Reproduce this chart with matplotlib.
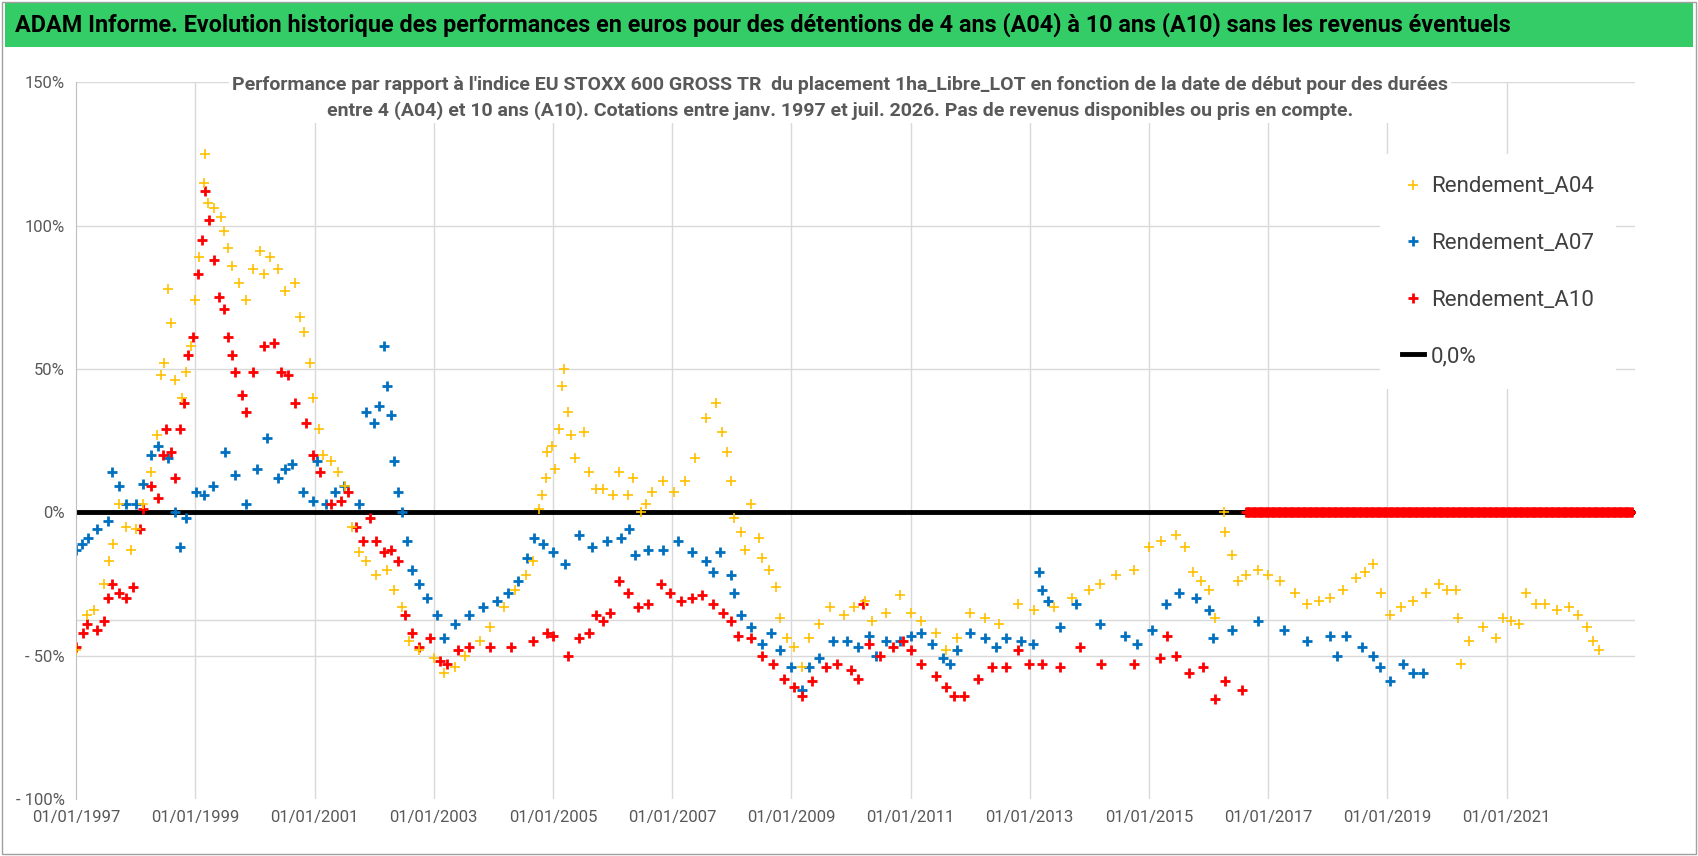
import numpy as np
from matplotlib import pyplot as plt
from matplotlib.patches import Rectangle


# Start dates (decimal years) and performance values (%)
a04_t = [1997.0, 1997.18, 1997.3, 1997.47, 1997.55, 1997.62, 1997.72, 1997.83, 1997.92, 1998.0,
         1998.12, 1998.25, 1998.35, 1998.42, 1998.48, 1998.54, 1998.6, 1998.66, 1998.78, 1998.84,
         1998.92, 1999.0, 1999.07, 1999.14, 1999.17, 1999.22, 1999.31, 1999.43, 1999.49, 1999.55,
         1999.61, 1999.73, 1999.85, 1999.97, 2000.09, 2000.15, 2000.26, 2000.38, 2000.5, 2000.68,
         2000.75, 2000.83, 2000.92, 2000.98, 2001.07, 2001.15, 2001.27, 2001.39, 2001.51, 2001.63,
         2001.75, 2001.87, 2002.04, 2002.22, 2002.34, 2002.46, 2002.58, 2002.76, 2003.0, 2003.18,
         2003.36, 2003.53, 2003.77, 2003.94, 2004.18, 2004.36, 2004.54, 2004.66, 2004.76, 2004.82,
         2004.88, 2004.9, 2004.98, 2005.04, 2005.1, 2005.16, 2005.19, 2005.25, 2005.31, 2005.37,
         2005.52, 2005.6, 2005.72, 2005.84, 2006.0, 2006.1, 2006.26, 2006.35, 2006.47, 2006.56,
         2006.67, 2006.85, 2007.03, 2007.21, 2007.39, 2007.56, 2007.74, 2007.83, 2007.92, 2007.98,
         2008.04, 2008.16, 2008.22, 2008.33, 2008.45, 2008.51, 2008.63, 2008.75, 2008.81, 2008.93,
         2009.05, 2009.17, 2009.29, 2009.46, 2009.64, 2009.88, 2010.05, 2010.23, 2010.35, 2010.59,
         2010.83, 2011.0, 2011.18, 2011.42, 2011.6, 2011.78, 2012.0, 2012.25, 2012.48, 2012.8,
         2013.07, 2013.4, 2013.7, 2014.0, 2014.18, 2014.45, 2014.75, 2015.0, 2015.2, 2015.45,
         2015.6, 2015.73, 2015.88, 2016.0, 2016.1, 2016.25, 2016.28, 2016.39, 2016.5, 2016.62,
         2016.83, 2017.0, 2017.2, 2017.45, 2017.65, 2017.85, 2018.03, 2018.25, 2018.48, 2018.62,
         2018.76, 2018.9, 2019.04, 2019.23, 2019.43, 2019.65, 2019.87, 2020.0, 2020.15, 2020.19,
         2020.23, 2020.37, 2020.6, 2020.82, 2020.94, 2021.07, 2021.2, 2021.32, 2021.5, 2021.65,
         2021.85, 2022.05, 2022.2, 2022.35, 2022.45, 2022.55]
a04_v = [-48, -36, -34, -25, -17, -11, 3, -5, -13, -6,
         3, 14, 27, 48, 52, 78, 66, 46, 40, 49,
         58, 74, 89, 115, 125, 108, 106, 103, 98, 92,
         86, 80, 74, 85, 91, 83, 89, 85, 77, 80,
         68, 63, 52, 40, 29, 20, 18, 14, 9, -5,
         -14, -17, -22, -20, -27, -33, -45, -48, -51, -56,
         -54, -50, -45, -40, -33, -27, -22, -17, 1, 6,
         12, 21, 23, 15, 29, 44, 50, 35, 27, 19,
         28, 14, 8, 8, 6, 14, 6, 12, 0, 3,
         7, 11, 7, 11, 19, 33, 38, 28, 21, 11,
         -2, -7, -13, 3, -9, -16, -20, -26, -37, -44,
         -47, -54, -44, -39, -33, -36, -33, -31, -38, -35,
         -29, -35, -38, -42, -48, -44, -35, -37, -39, -32,
         -34, -33, -30, -27, -25, -22, -20, -12, -10, -8,
         -12, -21, -24, -27, -37, 0, -7, -15, -24, -22,
         -20, -22, -24, -28, -32, -31, -30, -27, -23, -21,
         -18, -28, -36, -33, -31, -28, -25, -27, -27, -37,
         -53, -45, -40, -44, -37, -38, -39, -28, -32, -32,
         -34, -33, -36, -40, -45, -48]

a07_t = [1997.0, 1997.1, 1997.2, 1997.35, 1997.53, 1997.6, 1997.72, 1997.83, 1998.0, 1998.12,
         1998.25, 1998.37, 1998.54, 1998.66, 1998.75, 1998.84, 1999.02, 1999.15, 1999.3, 1999.5,
         1999.67, 1999.85, 2000.03, 2000.2, 2000.38, 2000.5, 2000.62, 2000.8, 2000.98, 2001.04,
         2001.2, 2001.35, 2001.5, 2001.75, 2001.87, 2002.0, 2002.09, 2002.16, 2002.22, 2002.28,
         2002.34, 2002.4, 2002.46, 2002.55, 2002.64, 2002.76, 2002.88, 2003.06, 2003.18, 2003.36,
         2003.6, 2003.83, 2004.06, 2004.24, 2004.42, 2004.57, 2004.69, 2004.83, 2005.0, 2005.2,
         2005.43, 2005.66, 2005.9, 2006.14, 2006.28, 2006.38, 2006.6, 2006.85, 2007.09, 2007.33,
         2007.56, 2007.68, 2007.8, 2007.98, 2008.04, 2008.16, 2008.33, 2008.51, 2008.66, 2008.81,
         2008.99, 2009.17, 2009.29, 2009.46, 2009.7, 2009.94, 2010.12, 2010.3, 2010.42, 2010.59,
         2010.83, 2011.0, 2011.18, 2011.36, 2011.54, 2011.66, 2011.78, 2012.0, 2012.25, 2012.43,
         2012.6, 2012.85, 2013.05, 2013.15, 2013.2, 2013.3, 2013.5, 2013.77, 2014.18, 2014.6,
         2014.8, 2015.05, 2015.28, 2015.5, 2015.78, 2016.0, 2016.08, 2016.39, 2016.83, 2017.27,
         2017.65, 2018.03, 2018.15, 2018.3, 2018.58, 2018.76, 2018.88, 2019.04, 2019.26, 2019.43,
         2019.6]
a07_v = [-13, -11, -9, -6, -3, 14, 9, 3, 3, 10,
         20, 23, 19, 0, -12, -2, 7, 6, 9, 21,
         13, 3, 15, 26, 12, 15, 17, 7, 4, 18,
         3, 7, 9, 3, 35, 31, 37, 58, 44, 34,
         18, 7, 0, -10, -20, -25, -30, -36, -44, -39,
         -36, -33, -31, -28, -24, -16, -9, -11, -14, -18,
         -8, -12, -10, -9, -6, -15, -13, -13, -10, -14,
         -17, -21, -14, -22, -28, -36, -40, -46, -42, -48,
         -54, -62, -54, -51, -45, -45, -47, -43, -50, -45,
         -45, -43, -42, -46, -51, -53, -48, -42, -44, -47,
         -44, -45, -46, -21, -27, -31, -40, -32, -39, -43,
         -46, -41, -32, -28, -30, -34, -44, -41, -38, -41,
         -45, -43, -50, -43, -47, -50, -54, -59, -53, -56,
         -56]

a10_t = [1997.0, 1997.12, 1997.18, 1997.35, 1997.47, 1997.53, 1997.6, 1997.72, 1997.83, 1997.95,
         1998.07, 1998.13, 1998.25, 1998.37, 1998.45, 1998.51, 1998.6, 1998.66, 1998.75, 1998.81,
         1998.87, 1998.96, 1999.05, 1999.11, 1999.17, 1999.23, 1999.31, 1999.4, 1999.49, 1999.55,
         1999.61, 1999.67, 1999.79, 1999.85, 1999.97, 2000.15, 2000.32, 2000.44, 2000.56, 2000.68,
         2000.86, 2000.98, 2001.1, 2001.27, 2001.45, 2001.57, 2001.69, 2001.81, 2001.93, 2002.04,
         2002.16, 2002.28, 2002.4, 2002.52, 2002.64, 2002.76, 2002.94, 2003.11, 2003.23, 2003.4,
         2003.59, 2003.94, 2004.3, 2004.66, 2004.9, 2005.0, 2005.25, 2005.43, 2005.6, 2005.72,
         2005.84, 2005.96, 2006.1, 2006.26, 2006.43, 2006.6, 2006.82, 2006.97, 2007.15, 2007.33,
         2007.5, 2007.68, 2007.86, 2007.98, 2008.1, 2008.33, 2008.51, 2008.69, 2008.87, 2009.05,
         2009.17, 2009.35, 2009.58, 2009.76, 2010.0, 2010.12, 2010.2, 2010.3, 2010.48, 2010.7,
         2010.88, 2011.0, 2011.18, 2011.42, 2011.6, 2011.72, 2011.9, 2012.13, 2012.37, 2012.6,
         2012.8, 2012.98, 2013.2, 2013.5, 2013.85, 2014.2, 2014.74, 2015.18, 2015.3, 2015.45,
         2015.67, 2015.9, 2016.1, 2016.27, 2016.56]
a10_v = [-47, -42, -39, -41, -38, -30, -25, -28, -30, -26,
         -6, 1, 9, 5, 20, 29, 21, 12, 29, 38,
         55, 61, 83, 95, 112, 102, 88, 75, 71, 61,
         55, 49, 41, 35, 49, 58, 59, 49, 48, 38,
         31, 20, 14, 3, 4, 7, -5, -10, -2, -10,
         -14, -13, -17, -36, -42, -47, -44, -52, -53, -48,
         -47, -47, -47, -45, -42, -43, -50, -44, -42, -36,
         -38, -35, -24, -28, -33, -32, -25, -28, -31, -30,
         -29, -32, -35, -38, -43, -44, -50, -53, -58, -61,
         -64, -59, -54, -53, -55, -58, -32, -46, -50, -47,
         -45, -48, -53, -57, -61, -64, -64, -58, -54, -54,
         -48, -53, -53, -54, -47, -53, -53, -51, -43, -50,
         -56, -54, -65, -59, -62]

# A10 series is reported at 0 once the 10-year window runs past today
a10_zero_t = np.arange(2016.62, 2023.1, 0.02)
a10_zero_v = np.zeros(len(a10_zero_t))

tick_years = list(range(1997, 2022, 2))
tick_labels = [f"01/01/{y}" for y in tick_years]
y_ticks = [-100, -50, 0, 50, 100, 150]
y_labels = ['- 100%', '- 50%', '0%', '50%', '100%', '150%']

FONT = ['Roboto', 'DejaVu Sans']
GREY = '#595959'


def main():
    fig = plt.figure(figsize=(16.98, 8.56), dpi=100)
    ax = fig.add_axes([0.0448, 0.0666, 0.918, 0.8374])

    # banner and frame
    fig.patches.append(Rectangle((0.003, 0.945), 0.994, 0.052, transform=fig.transFigure,
                                 facecolor='#33CC66', edgecolor='none'))
    fig.patches.append(Rectangle((0.001, 0.002), 0.998, 0.996, transform=fig.transFigure,
                                 facecolor='none', edgecolor='#A0A0A0', lw=1))
    fig.text(0.009, 0.971, "ADAM Informe. Evolution historique des performances en euros pour des "
             "détentions de 4 ans (A04) à 10 ans (A10) sans les revenus éventuels",
             family=FONT, weight='bold', fontsize=16.8, va='center', ha='left')

    ax.set_xlim(1997, 2023.15)
    ax.set_ylim(-100, 150)
    for y in [150, 100, 50, -37.5, -50]:
        ax.axhline(y, color='#D9D9D9', lw=1, zorder=0)
    for x in tick_years[1:]:
        ax.axvline(x, color='#D9D9D9', lw=1, zorder=0)

    ax.plot([1997, 2023.15], [0, 0], color='black', lw=3.5, zorder=1, label='0,0%')
    ax.plot(a04_t, a04_v, '+', color='#FFC000', ms=7, mew=1.2, zorder=3, label='Rendement_A04')
    ax.plot(a07_t, a07_v, '+', color='#0070C0', ms=7, mew=2, zorder=2, label='Rendement_A07')
    ax.plot(a10_t, a10_v, '+', color='#FF0000', ms=7, mew=2, zorder=2, label='Rendement_A10')
    ax.plot(a10_zero_t, a10_zero_v, '+', color='#FF0000', ms=7, mew=2, zorder=2)

    ax.set_xticks(tick_years)
    ax.set_xticklabels(tick_labels, family=FONT, fontsize=12, color=GREY)
    ax.set_yticks(y_ticks)
    ax.set_yticklabels(y_labels, family=FONT, fontsize=12, color=GREY)
    ax.tick_params(length=0, pad=8)
    for s in ['top', 'right', 'bottom']:
        ax.spines[s].set_visible(False)
    ax.spines['left'].set_color('#BFBFBF')

    ax.text(0.49, 1.008, "Performance par rapport à l'indice EU STOXX 600 GROSS TR  du placement "
            "1ha_Libre_LOT en fonction de la date de début pour des durées\n"
            "entre 4 (A04) et 10 ans (A10). Cotations entre janv. 1997 et juil. 2026. "
            "Pas de revenus disponibles ou pris en compte.",
            transform=ax.transAxes, ha='center', va='top', family=FONT, weight='bold',
            fontsize=14, color=GREY, linespacing=1.45,
            bbox=dict(facecolor='white', edgecolor='none', pad=2))

    handles, labels = ax.get_legend_handles_labels()
    order = [1, 2, 3, 0]
    leg = ax.legend([handles[i] for i in order], [labels[i] for i in order],
                    loc='upper right', bbox_to_anchor=(0.995, 0.915), frameon=True,
                    fancybox=False, edgecolor='none', framealpha=1, labelspacing=1.6,
                    handlelength=1.0, handletextpad=0.3, borderpad=1.0,
                    prop={'family': FONT, 'size': 16})
    for t in leg.get_texts():
        t.set_color('#404040')

    fig.savefig('out.png', dpi=100)


if __name__ == '__main__':
    main()
